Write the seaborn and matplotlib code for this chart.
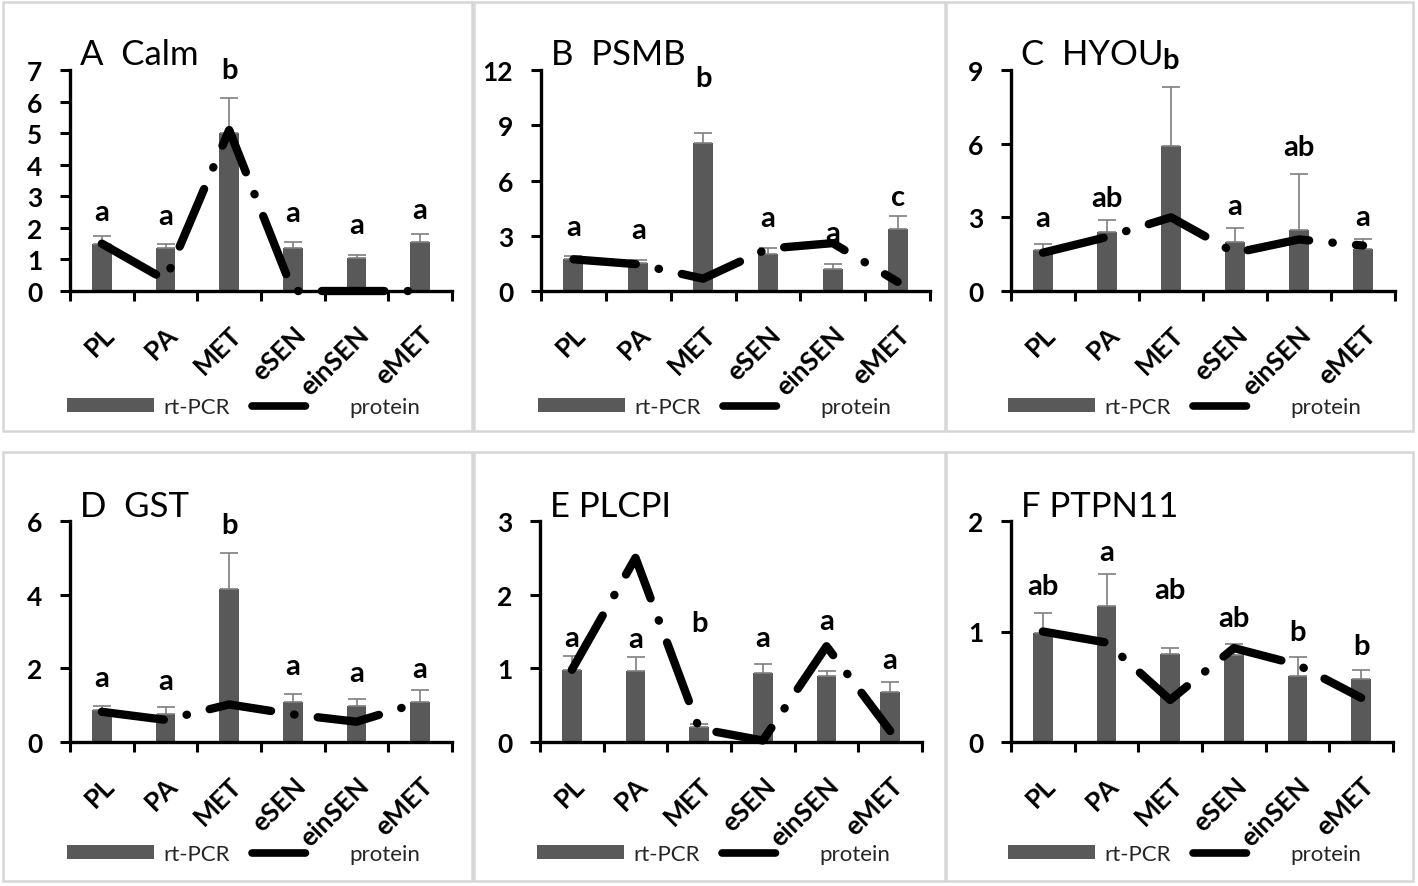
import numpy as np
import pandas as pd
import matplotlib
matplotlib.use("Agg")
import matplotlib.pyplot as plt
from matplotlib.patches import Rectangle, Patch
from matplotlib.lines import Line2D
import seaborn as sns

sns.set_theme(style="white")
plt.rcParams['font.family'] = ['Lato', 'DejaVu Sans']

groups = ["PL", "PA", "MET", "eSEN", "einSEN", "eMET"]

# A Calm
calm_rt = [1.5, 1.35, 5.0, 1.35, 1.05, 1.55]
calm_err = [0.25, 0.13, 1.1, 0.2, 0.1, 0.25]
calm_prot = [1.5, 0.35, 5.1, 0.0, 0.0, 0.0]
calm_let = ["a", "a", "b", "a", "a", "a"]
calm_let_y = [2.48, 2.33, 6.98, 2.43, 2.06, 2.54]

# B PSMB
psmb_rt = [1.76, 1.54, 8.06, 2.0, 1.18, 3.39]
psmb_err = [0.14, 0.16, 0.54, 0.35, 0.27, 0.69]
psmb_prot = [1.72, 1.45, 0.67, 2.3, 2.6, 0.5]
psmb_let = ["a", "a", "b", "a", "a", "c"]
psmb_let_y = [3.44, 3.26, 11.5, 3.9, 3.08, 5.07]

# C HYOU
hyou_rt = [1.67, 2.4, 5.9, 2.0, 2.49, 1.73]
hyou_err = [0.23, 0.48, 2.4, 0.58, 2.26, 0.37]
hyou_prot = [1.56, 2.2, 3.0, 1.55, 2.1, 1.85]
hyou_let = ["a", "ab", "b", "a", "ab", "a"]
hyou_let_y = [2.92, 3.74, 9.37, 3.4, 5.84, 2.99]

# D GST
gst_rt = [0.86, 0.77, 4.15, 1.08, 0.99, 1.08]
gst_err = [0.13, 0.18, 0.99, 0.23, 0.18, 0.32]
gst_prot = [0.82, 0.6, 1.02, 0.75, 0.55, 1.08]
gst_let = ["a", "a", "b", "a", "a", "a"]
gst_let_y = [1.71, 1.62, 5.87, 2.03, 1.85, 1.94]

# E PLCPI
plcpi_rt = [0.98, 0.96, 0.2, 0.93, 0.9, 0.68]
plcpi_err = [0.19, 0.19, 0.05, 0.13, 0.06, 0.13]
plcpi_prot = [0.98, 2.5, 0.18, 0.02, 1.3, 0.15]
plcpi_let = ["a", "a", "b", "a", "a", "a"]
plcpi_let_y = [1.4, 1.38, 1.6, 1.4, 1.63, 1.1]

# F PTPN11
ptpn_rt = [0.99, 1.23, 0.8, 0.79, 0.6, 0.57]
ptpn_err = [0.18, 0.29, 0.05, 0.1, 0.17, 0.08]
ptpn_prot = [1.0, 0.9, 0.38, 0.85, 0.7, 0.4]
ptpn_let = ["ab", "a", "ab", "ab", "b", "b"]
ptpn_let_y = [1.4, 1.71, 1.37, 1.11, 0.99, 0.86]

titles = ["A  Calm", "B  PSMB", "C  HYOU", "D  GST", "E PLCPI", "F PTPN11"]
ymaxes = [7, 12, 9, 6, 3, 2]
ysteps = [1, 3, 3, 2, 1, 1]

panels = [
    (calm_rt, calm_err, calm_prot, calm_let, calm_let_y),
    (psmb_rt, psmb_err, psmb_prot, psmb_let, psmb_let_y),
    (hyou_rt, hyou_err, hyou_prot, hyou_let, hyou_let_y),
    (gst_rt, gst_err, gst_prot, gst_let, gst_let_y),
    (plcpi_rt, plcpi_err, plcpi_prot, plcpi_let, plcpi_let_y),
    (ptpn_rt, ptpn_err, ptpn_prot, ptpn_let, ptpn_let_y),
]

W, H = 1418, 887
BAR = "#595959"
fig = plt.figure(figsize=(W / 100, H / 100), dpi=100)

# panel frames (pixels)
boxes = [(3, 3, 472, 432), (474, 3, 945, 432), (946, 3, 1413, 432),
         (3, 453, 472, 882), (474, 453, 945, 882), (946, 453, 1413, 882)]
for x0, y0, x1, y1 in boxes:
    fig.patches.append(Rectangle((x0 / W, 1 - y1 / H), (x1 - x0) / W, (y1 - y0) / H,
                                 transform=fig.transFigure, fill=False,
                                 edgecolor="#d6d6d6", lw=1.8))

# axes (left, right, top, zero) in pixels
axpos = [(70, 452, 71, 292), (541, 930, 71, 292), (1011, 1395, 71, 292),
         (70, 452, 522, 743), (540, 922, 522, 743), (1011, 1393, 522, 743)]
leg_y = [-0.525, -0.525, -0.525, -0.507, -0.507, -0.507]
title_dy = [0.027, 0.027, 0.027, 0.023, 0.023, 0.023]

x = np.arange(len(groups))
for i, (rt, err, prot, let, let_y) in enumerate(panels):
    l, r, t, z = axpos[i]
    ax = fig.add_axes([l / W, 1 - z / H, (r - l) / W, (z - t) / H])
    df = pd.DataFrame({"group": groups, "rt": rt})
    sns.barplot(data=df, x="group", y="rt", color=BAR, saturation=1, width=0.31,
                errorbar=None, linewidth=0, ax=ax)
    ax.errorbar(x, rt, yerr=[np.zeros(len(err)), err], fmt="none", ecolor="#7f7f7f",
                elinewidth=1.2, capsize=6.5, capthick=1.2, zorder=3)
    ax.plot(x, prot, color="black", lw=6, ls=(0, (7.5, 2.8, 0.05, 2.8)),
            dash_capstyle="round", solid_capstyle="round", clip_on=False, zorder=4)
    for j in range(len(groups)):
        ax.annotate(let[j], (x[j], let_y[j]), xytext=(0, -5), textcoords="offset points",
                    ha="center", va="baseline", fontsize=21, fontweight="bold",
                    color="black", zorder=5, annotation_clip=False)

    ymax, step = ymaxes[i], ysteps[i]
    ax.set_xlim(-0.5, 5.5)
    ax.set_ylim(0, ymax)
    ax.set_yticks(np.arange(0, ymax + step / 2, step))
    ax.set_xticks(x)
    ax.set_xticklabels(groups, rotation=45, ha="right", va="top", rotation_mode="anchor")
    ax.set_xticks(np.arange(-0.5, 6, 1), minor=True)
    ax.tick_params(axis="x", which="major", length=0, pad=22, labelsize=19)
    ax.tick_params(axis="x", which="minor", length=7, width=2.2, direction="out",
                   color="black", bottom=True)
    ax.tick_params(axis="y", length=7, width=2.2, direction="out", pad=13,
                   labelsize=19, color="black", left=True)
    for lab in ax.get_xticklabels() + ax.get_yticklabels():
        lab.set_fontweight("bold")
        lab.set_color("black")
    ax.set_xlabel("")
    ax.set_ylabel("")
    for s in ["top", "right"]:
        ax.spines[s].set_visible(False)
    for s in ["left", "bottom"]:
        ax.spines[s].set_color("black")
        ax.spines[s].set_linewidth(2.4)

    ax.text(0.026, 1 + title_dy[i], titles[i], transform=ax.transAxes, fontsize=25,
            ha="left", va="baseline", color="black")

    handles = [Patch(facecolor=BAR, edgecolor="none", label="rt-PCR"),
               Line2D([0], [0], color="black", lw=5.5, ls=(0, (7, 30)),
                      dash_capstyle="round", label="protein")]
    ax.legend(handles=handles, ncol=2, loc="center left",
              bbox_to_anchor=(-0.008, leg_y[i]), frameon=False, fontsize=16,
              handlelength=3.9, handleheight=0.6, handletextpad=0.45,
              columnspacing=1.0, borderpad=0, borderaxespad=0)

fig.savefig("out.png", dpi=100, facecolor="white")
